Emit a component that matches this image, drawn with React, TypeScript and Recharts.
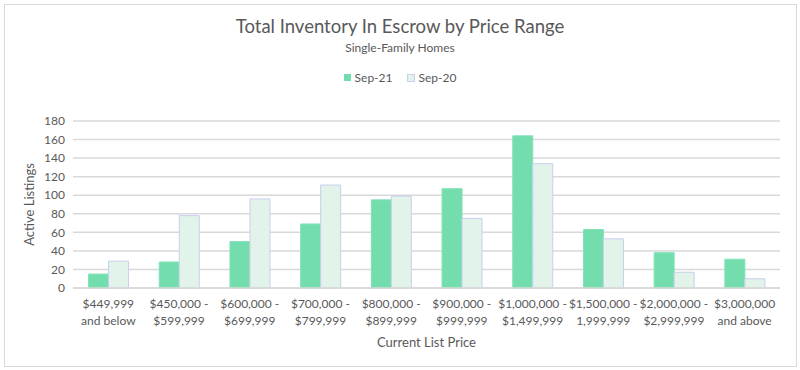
import { BarChart, Bar, XAxis, YAxis, CartesianGrid, Legend } from 'recharts';

const priceRanges = [
  ['$449,999', 'and below'],
  ['$450,000 -', '$599,999'],
  ['$600,000 -', '$699,999'],
  ['$700,000 -', '$799,999'],
  ['$800,000 -', '$899,999'],
  ['$900,000 -', '$999,999'],
  ['$1,000,000 -', '$1,499,999'],
  ['$1,500,000 -', '1,999,999'],
  ['$2,000,000 -', '$2,999,999'],
  ['$3,000,000', 'and above'],
];
const sep21 = [15, 28, 50, 69, 95, 107, 164, 63, 38, 31];
const sep20 = [29, 78, 96, 111, 99, 75, 134, 53, 17, 10];
const yTicks = [0, 20, 40, 60, 80, 100, 120, 140, 160, 180];

const FONT = 'Lato, "Open Sans", sans-serif';
const TEXT = '#595959';

const data = priceRanges.map((lines, i) => ({
  range: lines.join(' '),
  sep21: sep21[i],
  sep20: sep20[i],
}));

const PriceTick = ({ x, y, payload, index }: any) => {
  const lines = priceRanges[index] ?? [payload.value];
  return (
    <text x={x} y={y} textAnchor="middle" fill={TEXT} fontSize={12} fontFamily={FONT}>
      {lines.map((l, i) => (
        <tspan key={i} x={x} dy={i === 0 ? 12 : 17}>{l}</tspan>
      ))}
    </text>
  );
};

const LegendContent = () => (
  <div style={{ display: 'flex', justifyContent: 'center', gap: 14, fontFamily: FONT, fontSize: 12, color: TEXT }}>
    <span style={{ display: 'flex', alignItems: 'center', gap: 4 }}>
      <span style={{ width: 7, height: 7, background: '#74ddae', display: 'inline-block' }} />Sep-21
    </span>
    <span style={{ display: 'flex', alignItems: 'center', gap: 4 }}>
      <span style={{ width: 6, height: 6, background: '#e2f3ea', border: '1px solid #c8cfee', display: 'inline-block' }} />Sep-20
    </span>
  </div>
);

export default function App() {
  return (
    <div style={{ position: 'absolute', left: 0, top: 0, width: 800, height: 370, background: '#fff' }}>
      <div style={{ position: 'absolute', left: 4, top: 4, width: 791, height: 361, border: '1px solid #d9d9d9' }} />
      <div style={{ position: 'absolute', top: 15, width: 800, textAlign: 'center', fontFamily: FONT, fontSize: 18.5, color: TEXT }}>
        Total Inventory In Escrow by Price Range
      </div>
      <div style={{ position: 'absolute', top: 40, width: 800, textAlign: 'center', fontFamily: FONT, fontSize: 12, color: TEXT }}>
        Single-Family Homes
      </div>
      <BarChart
        width={800}
        height={370}
        data={data}
        margin={{ top: 106, right: 20, left: 0, bottom: 0 }}
        barCategoryGap="22%"
        barGap={0}
      >
        <CartesianGrid vertical={false} stroke="#d9d9d9" strokeWidth={1.5} />
        <Legend verticalAlign="top" content={<LegendContent />} wrapperStyle={{ top: 70, left: 0, width: 800 }} />
        <XAxis
          dataKey="range"
          interval={0}
          tick={<PriceTick />}
          tickLine={false}
          axisLine={{ stroke: '#d9d9d9', strokeWidth: 1.5 }}
          height={82}
          label={{ value: 'Current List Price', position: 'insideBottom', offset: 23, fill: TEXT, fontSize: 13, fontFamily: FONT }}
        />
        <YAxis
          domain={[0, 180]}
          ticks={yTicks}
          interval={0}
          tickLine={false}
          axisLine={false}
          width={73}
          tick={{ fill: TEXT, fontSize: 12, fontFamily: FONT }}
          label={{ value: 'Active Listings', angle: -90, position: 'insideLeft', offset: 29, fill: TEXT, fontSize: 13, fontFamily: FONT, style: { textAnchor: 'middle' } }}
        />
        <Bar dataKey="sep21" name="Sep-21" fill="#74ddae" stroke="#7fe3b6" strokeWidth={1} isAnimationActive={false} />
        <Bar dataKey="sep20" name="Sep-20" fill="#e2f3ea" stroke="#c8cfee" strokeWidth={1} isAnimationActive={false} />
      </BarChart>
    </div>
  );
}
